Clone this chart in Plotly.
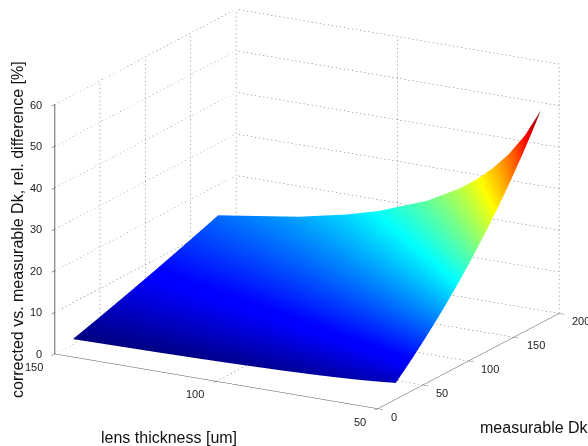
import numpy as np
import plotly.graph_objects as go

# Values
dk_values = [20, 30, 40, 50, 60, 70, 80, 90, 100, 110, 120, 130, 140, 150, 160, 170, 180]
thickness_values = [50, 55, 60, 65, 70, 75, 85, 100, 110, 125, 150]
diff_t50 = [3.91, 5.98, 8.13, 10.38, 12.71, 15.15, 17.70, 20.37, 23.15, 26.07, 29.13, 32.35, 35.72, 39.28, 43.02, 46.97, 51.15]
diff_t55 = [3.54, 5.40, 7.34, 9.34, 11.43, 13.59, 15.84, 18.18, 20.61, 23.15, 25.80, 28.57, 31.45, 34.48, 37.64, 40.95, 44.43]
diff_t60 = [3.23, 4.93, 6.69, 8.50, 10.38, 12.32, 14.33, 16.41, 18.58, 20.82, 23.15, 25.58, 28.10, 30.72, 33.45, 36.30, 39.28]
diff_t65 = [2.98, 4.54, 6.14, 7.79, 9.50, 11.26, 13.08, 14.96, 16.91, 18.92, 21.00, 23.15, 25.39, 27.70, 30.10, 32.60, 35.19]
diff_t70 = [2.76, 4.20, 5.68, 7.20, 8.76, 10.38, 12.04, 13.75, 15.51, 17.33, 19.21, 21.15, 23.15, 25.22, 27.37, 29.58, 31.88]
diff_t75 = [2.57, 3.91, 5.28, 6.69, 8.13, 9.62, 11.14, 12.71, 14.33, 15.99, 17.70, 19.46, 21.28, 23.15, 25.08, 27.07, 29.13]
diff_t85 = [2.26, 3.43, 4.63, 5.85, 7.11, 8.39, 9.71, 11.05, 12.43, 13.85, 15.30, 16.79, 18.32, 19.89, 21.50, 23.15, 24.85]
diff_t100 = [1.92, 2.90, 3.91, 4.93, 5.98, 7.04, 8.13, 9.24, 10.38, 11.53, 12.71, 13.92, 15.15, 16.41, 17.70, 19.02, 20.37]
diff_t110 = [1.74, 2.63, 3.54, 4.46, 5.40, 6.36, 7.34, 8.33, 9.34, 10.38, 11.43, 12.50, 13.59, 14.70, 15.84, 17.00, 18.18]
diff_t125 = [1.53, 2.31, 3.10, 3.91, 4.73, 5.56, 6.40, 7.26, 8.13, 9.02, 9.92, 10.84, 11.77, 12.71, 13.68, 14.66, 15.66]
diff_t150 = [1.27, 1.92, 2.57, 3.23, 3.91, 4.59, 5.28, 5.98, 6.69, 7.40, 8.13, 8.87, 9.62, 10.38, 11.14, 11.92, 12.71]
dk_ticks = [0, 50, 100, 150, 200]
thickness_ticks = [50, 100, 150]
z_ticks = [0, 10, 20, 30, 40, 50, 60]

JET = [[0, "#00007f"], [0.11, "#0000ff"], [0.125, "#0000ff"], [0.375, "#00ffff"],
       [0.625, "#ffff00"], [0.875, "#ff0000"], [1, "#7f0000"]]

FIG_W, FIG_H = 588, 446
fig = go.Figure()
fig.add_trace(go.Surface(
    x=dk_values, y=thickness_values,
    z=[diff_t50, diff_t55, diff_t60, diff_t65, diff_t70, diff_t75, diff_t85, diff_t100, diff_t110, diff_t125, diff_t150],
    colorscale=JET, cmin=1.2, cmax=51.2, showscale=False,
    lighting=dict(ambient=1, diffuse=0, specular=0, roughness=1, fresnel=0),
    hoverinfo="skip",
))

# Dotted grid on the floor and the two back walls, built from the ticks
gx, gy, gz = [], [], []
def seg(a, b, n):
    a, b = np.array(a, float), np.array(b, float)
    for i in range(n):
        p = a + (b - a) * i / n
        q = a + (b - a) * (i + 0.3) / n
        gx.extend([p[0], q[0], None]); gy.extend([p[1], q[1], None]); gz.extend([p[2], q[2], None])
dmin, dmax = dk_ticks[0], dk_ticks[-1]
tmin, tmax = thickness_ticks[0], thickness_ticks[-1]
zmin, zmax = z_ticks[0], z_ticks[-1]
N_D, N_T, N_Z = 50, 80, 60
for d in dk_ticks:
    seg((d, tmin, zmin), (d, tmax, zmin), N_T)
    seg((d, tmax, zmin), (d, tmax, zmax), N_Z)
for t in thickness_ticks:
    seg((dmin, t, zmin), (dmax, t, zmin), N_D)
    seg((dmax, t, zmin), (dmax, t, zmax), N_Z)
for z in z_ticks:
    seg((dmin, tmax, z), (dmax, tmax, z), N_D)
    seg((dmax, tmin, z), (dmax, tmax, z), N_T)
fig.add_trace(go.Scatter3d(x=gx, y=gy, z=gz, mode="lines",
                           line=dict(color="#555555", width=1),
                           connectgaps=False, hoverinfo="skip", showlegend=False))

axis_common = dict(
    showgrid=False, zeroline=False, showbackground=False, showspikes=False,
    showline=True, linecolor="#555555", linewidth=1, showticklabels=False,
    ticks="outside", ticklen=6, tickcolor="#333333", tickwidth=1,
    title=dict(text=""),
)
def px(x, y, text, angle=0):
    return dict(text=text, x=x / FIG_W, y=1 - y / FIG_H, textangle=angle,
                xref="paper", yref="paper", xanchor="center", yanchor="middle", showarrow=False,
                font=dict(family="Liberation Sans", size=16, color="#111111"))

def tick_label(x, y, z, text, anchor, dx, dy):
    return dict(x=x, y=y, z=z, text=text, showarrow=False, xanchor=anchor, yanchor="middle",
                xshift=dx, yshift=dy,
                font=dict(family="Liberation Sans", size=11, color="#222222"))

scene_labels = (
    [tick_label(d, tmin, zmin, str(d), "left", 11, -8) for d in dk_ticks]
    + [tick_label(dmin, t, zmin, str(t), "right", -10, -13) for t in thickness_ticks]
    + [tick_label(dmin, tmax, z, str(z), "right", -11, 0) for z in z_ticks]
)

fig.update_layout(
    width=FIG_W, height=FIG_H, showlegend=False,
    margin=dict(l=0, r=0, t=0, b=0),
    paper_bgcolor="white",
    font=dict(family="Liberation Sans"),
    scene=dict(
        domain=dict(x=[0, 1], y=[0, 1]),
        xaxis=dict(axis_common, range=[dmin, dmax], tickvals=dk_ticks),
        yaxis=dict(axis_common, range=[tmin, tmax], tickvals=thickness_ticks),
        zaxis=dict(axis_common, range=[zmin, zmax], tickvals=z_ticks, linewidth=2, linecolor="#666666"),
        aspectmode="manual", aspectratio=dict(x=1.405 * 1.1716, y=1.422 * 1.1716, z=1.0 * 1.1716),
        camera=dict(
            projection=dict(type="orthographic"),
            up=dict(x=0, y=0, z=1), center=dict(x=-0.045, y=0.041, z=-0.060),
            eye=dict(x=-1.312, y=-0.679, z=0.396),
        ),
        annotations=scene_labels,
    ),
    annotations=[
        px(169, 437, "lens thickness [um]"),
        px(534, 427, "measurable Dk"),
        px(17, 230, "corrected vs. measurable Dk, rel. difference [%]", -90),
    ],
)
fig.write_html("out.html", config={"displayModeBar": False},
               post_script="document.body.style.margin='0';document.documentElement.style.overflow='hidden';")
